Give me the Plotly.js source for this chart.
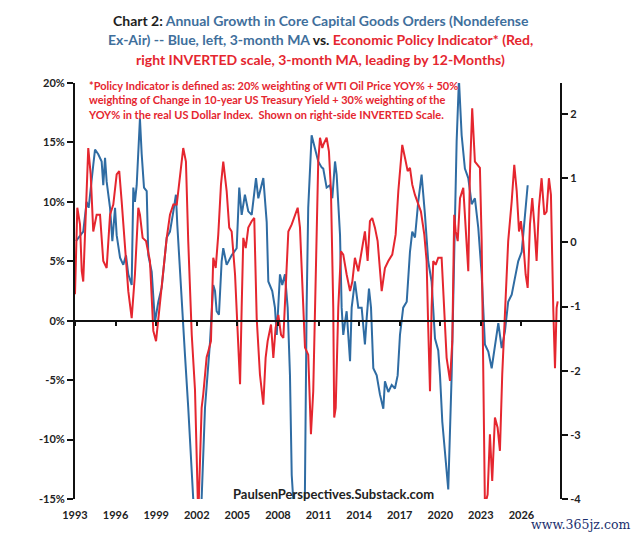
<!DOCTYPE html>
<html>
<head>
<meta charset="utf-8">
<script src="https://cdn.plot.ly/plotly-3.0.1.min.js"></script>
<style>html,body{margin:0;padding:0;background:#fff;}#chart{width:640px;height:541px;}</style>
</head>
<body>
<div id="chart"></div>
<script>
// Blue: Annual growth in core capital goods orders (3-month MA), left axis, %
const blueYears = [1993.07,1993.61,1993.86,1994.01,1994.35,1994.48,1994.72,1994.97,1995.09,1995.22,1995.34,1995.59,1995.76,1995.96,1996.08,1996.33,1996.57,1996.77,1996.94,1997.19,1997.31,1997.43,1997.56,1997.80,1997.93,1998.10,1998.30,1998.42,1998.67,1998.91,1999.16,1999.41,1999.78,2000.02,2000.27,2000.46,2000.56,2000.76,2001.00,2001.13,2001.37,2001.74,2002.05,2002.36,2002.61,2002.98,2003.22,2003.35,2003.47,2003.64,2003.84,2003.96,2004.21,2004.58,2004.95,2005.14,2005.32,2005.56,2005.81,2006.06,2006.38,2006.55,2006.92,2007.17,2007.29,2007.58,2007.78,2007.91,2008.03,2008.15,2008.32,2008.52,2008.72,2008.89,2009.02,2009.13,2009.55,2009.99,2010.12,2010.24,2010.49,2010.74,2010.98,2011.23,2011.35,2011.60,2011.85,2012.02,2012.22,2012.34,2012.59,2012.71,2012.83,2012.96,2013.08,2013.33,2013.45,2013.69,2013.94,2014.19,2014.43,2014.56,2014.73,2014.88,2015.05,2015.30,2015.54,2015.79,2015.91,2016.16,2016.41,2016.65,2016.85,2017.02,2017.26,2017.52,2017.76,2017.93,2018.13,2018.37,2018.62,2018.87,2019.11,2019.36,2019.61,2019.85,2019.98,2020.15,2020.47,2020.59,2020.84,2021.09,2021.21,2021.38,2021.58,2021.82,2022.07,2022.32,2022.56,2022.81,2023.06,2023.30,2023.55,2023.80,2024.04,2024.29,2024.54,2024.78,2025.02,2025.28,2025.52,2025.76,2026.02,2026.21,2026.46];
const bluePct = [6.7,7.5,10.0,9.5,13.1,14.4,14.0,13.4,11.4,13.7,11.7,9.5,6.7,9.5,7.2,5.3,4.7,5.5,3.9,3.0,11.2,10.0,11.4,17.0,14.0,11.2,10.9,5.5,4.1,-0.1,1.6,2.8,7.0,7.5,9.2,10.6,8.1,3.9,-1.2,-2.9,-7.3,-15.0,-17.0,-15.0,-7.3,-1.8,3.0,2.5,0.8,0.5,5.0,6.1,4.7,5.5,6.1,11.2,8.9,10.6,9.2,8.9,12.0,10.3,12.0,8.3,3.3,2.5,1.1,-1.2,1.3,3.9,3.0,3.9,1.1,-4.6,-13.0,-15.0,-20.0,-15.0,1.1,9.5,15.6,14.5,13.4,12.9,12.8,11.2,11.4,10.3,13.4,12.3,7.2,1.1,-1.2,-0.1,0.8,-3.4,1.1,3.3,1.1,1.1,-2.0,0.2,2.7,1.1,-4.0,-4.6,-6.2,-7.4,-5.1,-6.0,-5.4,-5.7,-4.6,-1.2,1.1,1.6,5.8,7.5,7.0,10.0,12.3,8.9,5.0,3.3,-1.5,-2.5,-4.6,-8.5,-13.0,-14.2,-4.6,8.1,15.1,20.3,15.6,12.8,12.0,9.8,10.3,7.8,3.9,-2.0,-2.6,-4.0,-2.0,-0.2,-2.3,-0.9,1.6,2.2,3.6,5.0,5.8,8.4,11.4];

// Red: Economic Policy Indicator (3-month MA, leading 12 months), right axis
const redYears = [1993.00,1993.17,1993.37,1993.50,1993.61,1993.74,1993.86,1993.98,1994.16,1994.35,1994.60,1994.85,1995.09,1995.34,1995.59,1995.83,1996.08,1996.27,1996.45,1996.70,1996.94,1997.19,1997.43,1997.68,1997.80,1998.00,1998.25,1998.54,1998.79,1998.99,1999.23,1999.53,1999.78,2000.02,2000.27,2000.52,2000.76,2001.00,2001.20,2001.37,2001.63,2001.87,2002.11,2002.36,2002.48,2002.73,2002.85,2003.05,2003.22,2003.40,2003.59,2003.79,2003.96,2004.21,2004.40,2004.58,2004.83,2005.03,2005.20,2005.32,2005.44,2005.62,2005.81,2006.06,2006.25,2006.43,2006.67,2006.92,2007.09,2007.24,2007.49,2007.66,2007.83,2008.03,2008.23,2008.40,2008.57,2008.77,2009.02,2009.26,2009.46,2009.63,2009.80,2010.00,2010.24,2010.44,2010.61,2010.79,2010.98,2011.11,2011.28,2011.35,2011.60,2011.77,2011.92,2012.09,2012.16,2012.27,2012.46,2012.66,2012.83,2013.08,2013.33,2013.50,2013.69,2013.94,2014.19,2014.43,2014.63,2014.80,2014.97,2015.17,2015.37,2015.54,2015.67,2015.91,2016.16,2016.45,2016.70,2016.90,2017.09,2017.19,2017.39,2017.59,2017.76,2017.93,2018.13,2018.37,2018.57,2018.82,2018.99,2019.11,2019.24,2019.36,2019.48,2019.66,2019.85,2020.10,2020.29,2020.47,2020.72,2020.89,2021.03,2021.14,2021.29,2021.46,2021.70,2021.88,2022.07,2022.19,2022.36,2022.56,2022.76,2022.93,2023.06,2023.18,2023.30,2023.50,2023.67,2023.84,2024.04,2024.24,2024.41,2024.58,2024.78,2025.02,2025.28,2025.47,2025.65,2025.82,2025.96,2026.13,2026.31,2026.46,2026.63,2026.80,2026.95,2027.12,2027.29,2027.49,2027.69,2027.86,2028.03,2028.18,2028.35,2028.48,2028.60,2028.68];
const redVal = [-0.81,0.54,0.28,-0.45,-0.61,0.12,1.06,1.47,1.06,0.17,0.43,0.43,-0.29,-0.40,0.43,0.59,1.06,1.11,0.64,-0.09,-0.76,-1.18,-0.50,0.54,0.43,0.07,0.02,-0.29,-1.38,-1.54,-1.02,-0.40,0.07,0.43,0.59,0.59,1.06,1.47,1.26,0.02,-1.44,-2.30,-4.30,-2.58,-2.37,-1.79,-1.70,-1.54,-0.24,-0.40,0.12,0.90,1.26,0.80,0.23,0.17,-0.50,-1.54,-2.21,-1.02,0.07,-0.09,0.23,0.33,0.38,-1.18,-2.06,-2.53,-1.80,-1.54,-1.28,-1.80,-1.33,-1.13,-1.44,-1.49,-0.61,0.17,0.28,0.43,0.54,0.23,-0.71,-1.64,-1.75,-2.99,-2.32,-0.50,1.26,1.63,1.47,1.52,1.63,1.42,0.80,-1.02,-2.73,-2.58,-1.02,-0.14,-0.19,-0.50,-0.76,-0.61,-0.24,-0.45,-0.14,0.17,-0.29,0.33,0.38,0.23,0.02,-0.50,-0.76,-0.40,-0.29,-0.19,0.12,0.80,1.32,1.52,1.32,1.11,1.16,0.90,0.74,0.59,0.48,0.12,-0.29,-1.33,-2.32,-1.02,-0.29,-0.35,-0.24,-0.24,-1.02,-1.80,-2.16,-1.54,0.43,0.17,0.02,0.69,0.85,0.23,-0.45,1.06,2.09,1.26,1.21,1.16,0.02,-2.06,-4.10,-3.93,-2.99,-3.72,-2.73,-2.89,-3.25,-2.06,-1.02,0.02,0.64,1.21,0.80,0.17,0.33,0.02,-0.50,-0.71,0.28,0.69,0.28,-0.29,0.54,1.00,0.43,0.48,1.00,0.74,-1.02,-1.96,-1.02,-0.92];

const xTickVals = [1993,1996,1999,2002,2005,2008,2011,2014,2017,2020,2023,2026];
const xTickText = ['1993','1996','1999','2002','2005','2008','2011','2014','2017','2020','2023','2026'];
const leftTickVals = [-15,-10,-5,0,5,10,15,20];
const leftTickText = ['-15%','-10%','-5%','0%','5%','10%','15%','20%'];
const rightTickVals = [-4,-3,-2,-1,0,1,2];
const rightTickText = ['-4','-3','-2','-1','0','1','2'];

const titleLines = [
  '<span style="color:#1e1e1e">Chart 2: </span>Annual Growth in Core Capital Goods Orders (Nondefense',
  'Ex-Air) -- Blue, left, 3-month MA<span style="color:#1e1e1e"> vs. </span><span style="color:#e5262f">Economic Policy Indicator* (Red,</span>',
  '<span style="color:#e5262f">right INVERTED scale, 3-month MA, leading by 12-Months)</span>'
];
const noteText = '*Policy Indicator is defined as: 20% weighting of WTI Oil Price YOY% + 50%<br>weighting of Change in 10-year US Treasury Yield + 30% weighting of the<br>YOY% in the real US Dollar Index.  Shown on right-side INVERTED Scale.';

const BLUE = '#2f6ca3', RED = '#e5262f', TBLUE = '#3f6f9c';
const xRange = [1993, 2028.85];
const leftRange = [-15, 20];
const rightRange = [-4, 2.484];
const zeroPos = (0 - leftRange[0]) / (leftRange[1] - leftRange[0]);

const traces = [
  {x: blueYears, y: bluePct, type: 'scatter', mode: 'lines', xaxis: 'x', yaxis: 'y',
   line: {color: BLUE, width: 2}, hoverinfo: 'skip'},
  {x: redYears, y: redVal, type: 'scatter', mode: 'lines', xaxis: 'x2', yaxis: 'y2',
   line: {color: RED, width: 2}, hoverinfo: 'skip'}
];

const tickFont = {family: 'Lato, "Open Sans", sans-serif', size: 11, color: '#222', weight: 'bold'};
const titleFont = {family: 'Lato, sans-serif', size: 14, color: TBLUE, weight: 'bold'};
const titleY = [1.1514, 1.1034, 1.0553];

const annotations = titleLines.map((t, i) => ({
  text: t, xref: 'paper', yref: 'paper', x: 0.507, y: titleY[i],
  xanchor: 'center', yanchor: 'middle', showarrow: false, font: titleFont
}));
annotations.push(
  {text: noteText,
   xref: 'paper', yref: 'paper', x: 0.022, y: 1.014, xanchor: 'left', yanchor: 'top', align: 'left',
   showarrow: false, font: {family: 'Lato, sans-serif', size: 11, color: RED, weight: 'bold'}},
  {text: 'PaulsenPerspectives.Substack.com', xref: 'paper', yref: 'paper', x: 0.532, y: 0.012,
   xanchor: 'center', yanchor: 'middle', showarrow: false,
   font: {family: 'Lato, sans-serif', size: 13, color: '#222', weight: 'bold'}},
  {text: 'www.365jz.com', xref: 'paper', yref: 'paper', x: 1.148, y: -0.062,
   xanchor: 'right', yanchor: 'middle', showarrow: false,
   font: {family: '"DejaVu Serif", "Liberation Serif", serif', size: 12.5, color: '#1b2f6e'}}
);

const layout = {
  width: 640, height: 541,
  margin: {l: 75, r: 80, t: 83, b: 42},
  paper_bgcolor: '#fff', plot_bgcolor: '#fff',
  showlegend: false,
  font: {family: 'Lato, sans-serif'},
  xaxis: {
    range: xRange, showline: false, zeroline: false, showgrid: false,
    tickmode: 'array', tickvals: xTickVals, ticktext: xTickText,
    ticks: '', tickfont: tickFont, ticklabelstandoff: 8
  },
  xaxis2: {
    overlaying: 'x', anchor: 'free', position: zeroPos, range: xRange,
    showline: true, linecolor: '#111', linewidth: 2, zeroline: false, showgrid: false,
    tickmode: 'array', tickvals: xTickVals, ticks: 'outside', ticklen: 4, tickwidth: 2, tickcolor: '#111',
    showticklabels: false
  },
  yaxis: {
    range: leftRange, showline: true, linecolor: '#111', linewidth: 2,
    zeroline: false, showgrid: false,
    tickmode: 'array', tickvals: leftTickVals, ticktext: leftTickText,
    ticks: 'outside', ticklen: 6, tickwidth: 2, tickcolor: '#111', tickfont: tickFont
  },
  yaxis2: {
    range: rightRange, overlaying: 'y', side: 'right', anchor: 'x',
    showline: true, linecolor: '#111', linewidth: 2, zeroline: false, showgrid: false,
    tickmode: 'array', tickvals: rightTickVals, ticktext: rightTickText,
    ticks: 'outside', ticklen: 6, tickwidth: 2, tickcolor: '#111', tickfont: tickFont
  },
  annotations: annotations
};

Plotly.newPlot('chart', traces, layout, {displayModeBar: false, staticPlot: true});
</script>
</body>
</html>
